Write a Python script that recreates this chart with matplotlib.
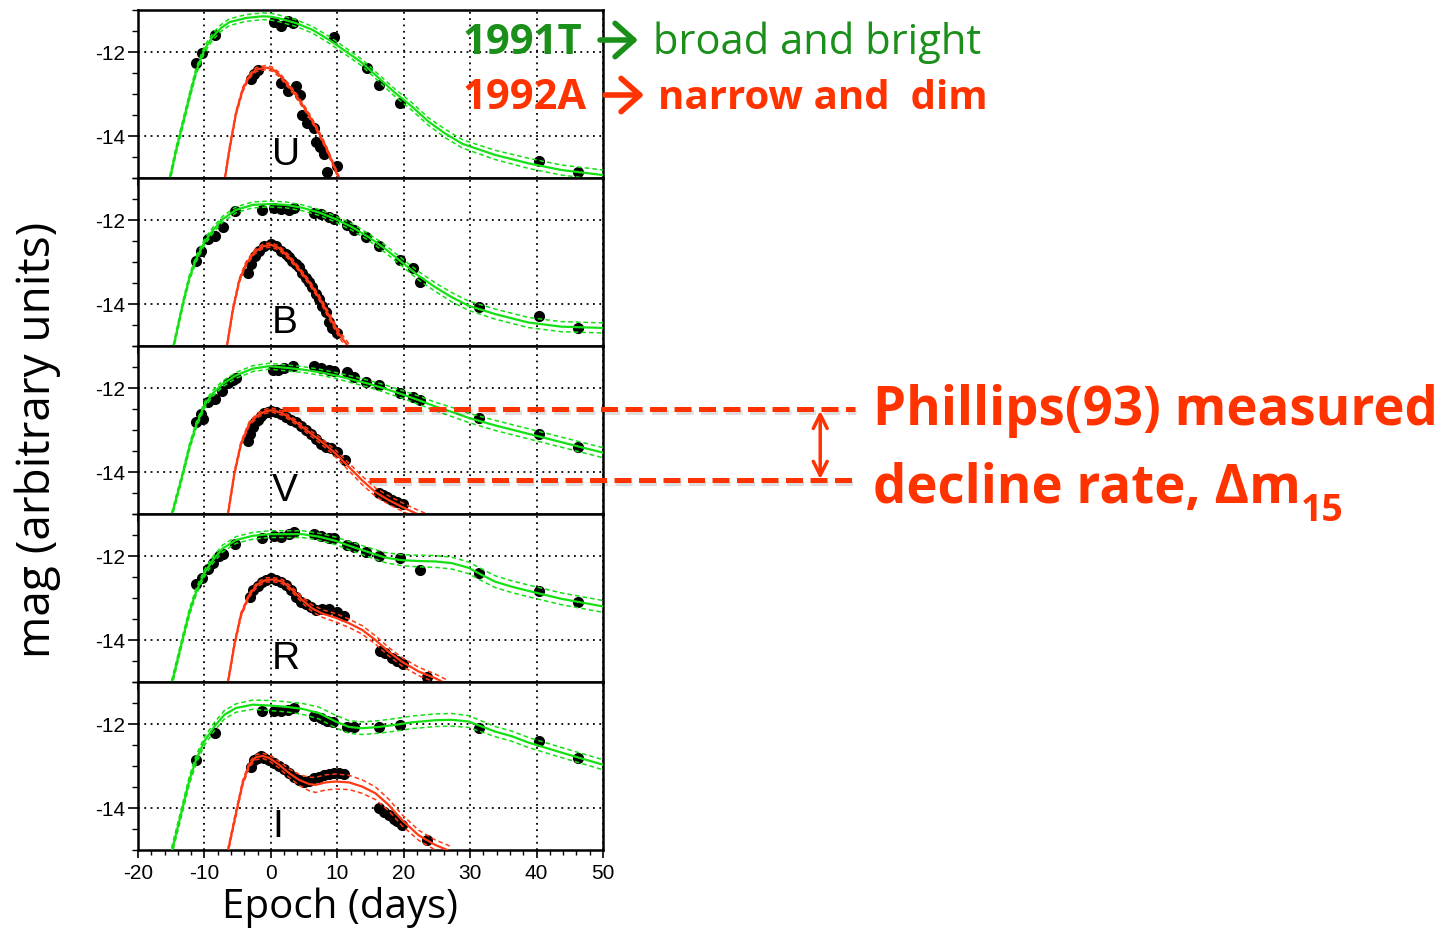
import matplotlib
matplotlib.use('Agg')
import matplotlib.pyplot as plt
import matplotlib.patheffects as pe
from matplotlib.patches import FancyArrowPatch
from matplotlib.ticker import MultipleLocator, FixedLocator

plt.rcParams['font.family'] = ['Liberation Sans', 'DejaVu Sans']
plt.rcParams['axes.unicode_minus'] = False

# ---------------------------------------------------------------------------
# light-curve fits (epoch in days, magnitude) and photometry, per band
# T = SN 1991T (broad, bright), A = SN 1992A (narrow, dim)
# ---------------------------------------------------------------------------
U_T_t = [-15.25, -14.25, -13.25, -12.25, -11.25, -10.0, -8.75, -7.5, -6.25, -3.75, -1.25, 0.0, 1.25, 3.75,
         6.25, 8.75, 11.25, 13.75, 16.25, 18.75, 21.25, 23.75, 26.25, 28.75, 30.0, 33.75, 38.75, 43.75, 50.0]
U_T_m = [-15.05, -14.33, -13.70, -13.06, -12.46, -11.94, -11.63, -11.43, -11.29, -11.19, -11.15, -11.16, -11.20,
         -11.31, -11.47, -11.71, -11.98, -12.26, -12.62, -12.98, -13.30, -13.66, -13.94, -14.18, -14.25, -14.45,
         -14.65, -14.81, -14.93]
U_T_s = [0.08, 0.08, 0.08, 0.08, 0.08, 0.08, 0.08, 0.08, 0.08, 0.08, 0.08, 0.08, 0.08, 0.08, 0.08, 0.08, 0.08,
         0.08, 0.08, 0.09, 0.09, 0.09, 0.10, 0.10, 0.10, 0.11, 0.12, 0.12, 0.12]
U_T_ox = [-11.25, -10.35, -8.4, 0.4, 1.5, 2.65, 3.4, 9.5, 14.4, 16.35, 19.5, 40.4, 46.25]
U_T_oy = [-12.25, -12.02, -11.60, -11.29, -11.37, -11.27, -11.32, -11.65, -12.38, -12.78, -13.22, -14.60, -14.85]

U_A_t = [-6.95, -6.25, -5.25, -4.25, -3.25, -2.25, -0.75, 0.25, 1.25, 2.75, 3.75, 5.25, 6.75, 8.25, 9.75, 10.6]
U_A_m = [-15.05, -14.33, -13.46, -12.90, -12.58, -12.42, -12.37, -12.41, -12.54, -12.82, -13.02, -13.38, -13.78,
         -14.25, -14.81, -15.15]
U_A_s = [0.05, 0.05, 0.05, 0.05, 0.05, 0.05, 0.05, 0.05, 0.05, 0.05, 0.05, 0.05, 0.05, 0.05, 0.05, 0.05]
U_A_ox = [-3.0, -2.5, -2.0, 1.5, 2.6, 3.75, 4.35, 4.75, 5.5, 6.5, 6.75, 7.4, 8.0, 8.5, 10.0]
U_A_oy = [-12.65, -12.52, -12.42, -12.73, -12.92, -12.80, -13.02, -13.50, -13.70, -13.82, -14.14, -14.25, -14.43,
          -14.85, -14.72]

B_T_t = [-14.7, -13.25, -12.25, -11.25, -10.0, -8.75, -7.25, -5.25, -2.75, -0.25, 2.25, 4.75, 7.25, 9.75, 12.25,
         14.75, 17.25, 19.75, 22.25, 24.75, 27.25, 29.75, 33.75, 38.75, 43.75, 50.0]
B_T_m = [-15.05, -14.0, -13.37, -12.93, -12.53, -12.25, -11.98, -11.76, -11.64, -11.62, -11.64, -11.71, -11.82,
         -11.98, -12.17, -12.41, -12.69, -13.01, -13.33, -13.60, -13.84, -14.04, -14.24, -14.44, -14.54, -14.57]
B_T_s = [0.07, 0.07, 0.07, 0.07, 0.07, 0.07, 0.07, 0.07, 0.07, 0.07, 0.07, 0.07, 0.07, 0.07, 0.08, 0.08, 0.09,
         0.09, 0.10, 0.10, 0.11, 0.11, 0.12, 0.12, 0.12, 0.12]
B_T_ox = [-11.25, -10.5, -9.5, -8.35, -7.25, -5.35, -1.35, 0.5, 1.5, 2.75, 3.5, 6.5, 7.5, 8.75, 9.5, 11.5, 12.5,
          14.35, 16.35, 19.5, 21.35, 22.4, 31.4, 40.4, 46.25]
B_T_oy = [-12.97, -12.73, -12.45, -12.37, -12.17, -11.78, -11.76, -11.71, -11.74, -11.76, -11.71, -11.84, -11.86,
          -11.92, -11.98, -12.13, -12.24, -12.41, -12.61, -12.95, -13.14, -13.48, -14.06, -14.29, -14.56]

B_A_t = [-6.65, -5.75, -4.75, -3.75, -2.5, -1.25, 0.0, 1.25, 2.75, 4.25, 5.75, 7.25, 8.75, 10.25, 11.75]
B_A_m = [-15.05, -14.16, -13.44, -13.05, -12.77, -12.63, -12.59, -12.67, -12.89, -13.17, -13.48, -13.84, -14.28,
         -14.71, -15.03]
B_A_s = [0.05, 0.05, 0.05, 0.05, 0.05, 0.05, 0.05, 0.05, 0.05, 0.05, 0.05, 0.06, 0.07, 0.08, 0.08]
B_A_ox = [-3.5, -3.0, -2.35, -1.75, -1.0, 0.0, 0.75, 1.5, 2.25, 2.75, 3.25, 3.75, 4.25, 4.75, 5.25, 5.75, 6.25,
          6.75, 7.25, 7.75, 8.25, 8.75, 9.25, 10.0]
B_A_oy = [-13.25, -13.05, -12.85, -12.73, -12.61, -12.56, -12.61, -12.73, -12.81, -12.87, -12.97, -13.05, -13.13,
          -13.25, -13.37, -13.48, -13.60, -13.75, -13.88, -14.04, -14.20, -14.44, -14.56, -14.70]

V_T_t = [-14.95, -13.25, -12.25, -11.25, -10.0, -8.75, -7.25, -5.25, -2.75, -0.25, 2.25, 4.75, 7.25, 9.75, 12.25,
         14.75, 17.25, 19.75, 22.25, 24.75, 27.25, 29.75, 33.75, 38.75, 43.75, 50.0]
V_T_m = [-15.05, -14.04, -13.40, -12.89, -12.41, -12.13, -11.90, -11.70, -11.54, -11.48, -11.52, -11.56, -11.62,
         -11.70, -11.80, -11.90, -12.02, -12.15, -12.29, -12.44, -12.57, -12.71, -12.89, -13.09, -13.29, -13.54]
V_T_s = [0.07, 0.07, 0.07, 0.07, 0.07, 0.07, 0.07, 0.07, 0.07, 0.07, 0.07, 0.07, 0.07, 0.07, 0.08, 0.08, 0.09,
         0.09, 0.10, 0.10, 0.11, 0.11, 0.12, 0.12, 0.12, 0.12]
V_T_ox = [-11.25, -10.5, -10.25, -9.4, -8.35, -7.35, -6.5, -5.75, -5.25, 0.35, 1.0, 2.0, 3.35, 6.5, 7.5, 8.75,
          9.5, 11.5, 12.5, 14.35, 16.35, 19.5, 21.35, 22.4, 31.4, 40.4, 46.25]
V_T_oy = [-12.81, -12.63, -12.73, -12.33, -12.25, -12.06, -11.88, -11.80, -11.75, -11.56, -11.56, -11.52, -11.48,
          -11.48, -11.52, -11.56, -11.60, -11.63, -11.74, -11.86, -11.94, -12.11, -12.21, -12.29, -12.71, -13.10,
          -13.40]

V_A_t = [-6.5, -5.5, -4.5, -3.25, -2.0, -0.75, 0.25, 1.75, 3.75, 5.75, 7.75, 9.75, 11.75, 13.75, 15.75, 17.75,
         19.75, 21.75, 23.5]
V_A_m = [-15.05, -14.04, -13.33, -12.85, -12.65, -12.55, -12.53, -12.60, -12.81, -13.05, -13.29, -13.56, -13.88,
         -14.20, -14.48, -14.67, -14.83, -14.98, -15.10]
V_A_s = [0.05, 0.05, 0.05, 0.05, 0.05, 0.05, 0.05, 0.05, 0.05, 0.06, 0.07, 0.08, 0.09, 0.10, 0.10, 0.10, 0.10,
         0.10, 0.10]
V_A_ox = [-3.5, -3.15, -2.75, -2.35, -2.0, -1.5, -1.0, -0.5, 0.0, 0.75, 1.5, 2.25, 3.0, 3.75, 4.5, 5.25, 6.0,
          6.75, 7.5, 8.25, 9.0, 10.0, 11.15, 16.25, 16.85, 17.5, 18.25, 19.0, 19.85]
V_A_oy = [-13.25, -13.09, -12.94, -12.81, -12.77, -12.67, -12.60, -12.56, -12.55, -12.57, -12.63, -12.69, -12.77,
          -12.81, -12.91, -12.99, -13.10, -13.21, -13.33, -13.40, -13.44, -13.52, -13.72, -14.49, -14.54, -14.60,
          -14.66, -14.71, -14.77]

R_T_t = [-14.95, -13.25, -12.25, -11.25, -10.0, -8.75, -7.25, -5.25, -2.75, -0.25, 2.25, 4.75, 7.25, 9.75, 12.25,
         14.75, 17.25, 19.75, 22.25, 24.75, 27.25, 29.75, 31.75, 33.75, 36.25, 38.75, 43.75, 50.0]
R_T_m = [-15.05, -13.96, -13.33, -12.85, -12.41, -12.10, -11.82, -11.62, -11.52, -11.48, -11.48, -11.48, -11.54,
         -11.64, -11.78, -11.91, -12.04, -12.10, -12.12, -12.13, -12.17, -12.28, -12.45, -12.61, -12.73, -12.83,
         -13.02, -13.20]
R_T_s = [0.08, 0.08, 0.08, 0.08, 0.08, 0.08, 0.08, 0.08, 0.08, 0.08, 0.08, 0.08, 0.08, 0.09, 0.10, 0.11, 0.12,
         0.13, 0.14, 0.14, 0.14, 0.14, 0.14, 0.14, 0.14, 0.14, 0.14, 0.14]
R_T_ox = [-11.25, -10.4, -9.5, -8.65, -7.75, -7.25, -5.35, -1.35, 0.5, 1.5, 2.75, 3.5, 6.5, 7.5, 8.75, 9.5, 11.5,
          12.5, 14.35, 16.35, 19.5, 22.4, 31.4, 40.4, 46.25]
R_T_oy = [-12.67, -12.52, -12.31, -12.17, -12.0, -11.96, -11.71, -11.56, -11.52, -11.55, -11.48, -11.44, -11.48,
          -11.52, -11.56, -11.58, -11.74, -11.78, -11.91, -11.99, -12.04, -12.34, -12.40, -12.83, -13.10]

R_A_t = [-6.5, -5.5, -4.5, -3.25, -2.0, -0.75, 0.25, 1.75, 3.25, 4.75, 6.25, 7.75, 9.75, 11.75, 13.75, 15.75,
         17.75, 19.75, 22.25, 24.75, 26.5]
R_A_m = [-15.05, -14.12, -13.40, -12.93, -12.67, -12.57, -12.56, -12.61, -12.81, -13.05, -13.25, -13.37, -13.47,
         -13.60, -13.76, -14.00, -14.28, -14.52, -14.75, -14.91, -15.05]
R_A_s = [0.05, 0.05, 0.05, 0.05, 0.05, 0.05, 0.05, 0.05, 0.06, 0.07, 0.08, 0.09, 0.10, 0.10, 0.10, 0.10, 0.10,
         0.10, 0.10, 0.10, 0.10]
R_A_ox = [-3.15, -2.65, -2.0, -1.35, -0.75, 0.0, 0.75, 1.5, 2.25, 3.0, 3.75, 4.5, 5.25, 6.0, 6.75, 7.75, 8.75,
          10.0, 11.0, 16.5, 17.25, 18.25, 19.0, 19.85, 23.5]
R_A_oy = [-12.97, -12.81, -12.71, -12.61, -12.57, -12.53, -12.57, -12.63, -12.69, -12.81, -12.97, -13.09, -13.15,
          -13.21, -13.29, -13.26, -13.26, -13.33, -13.44, -14.26, -14.32, -14.44, -14.50, -14.56, -14.87]

I_T_t = [-14.95, -13.25, -12.25, -11.25, -10.0, -8.5, -7.0, -5.25, -2.75, -0.25, 2.25, 4.75, 7.25, 9.75, 11.75,
         13.75, 16.25, 18.75, 21.25, 24.75, 27.25, 29.75, 31.75, 33.75, 36.25, 38.75, 43.75, 50.0]
I_T_m = [-15.05, -13.97, -13.33, -12.85, -12.41, -12.06, -11.78, -11.62, -11.54, -11.56, -11.59, -11.64, -11.74,
         -11.94, -12.07, -12.10, -12.07, -12.02, -11.96, -11.91, -11.90, -11.94, -12.06, -12.18, -12.29, -12.44,
         -12.68, -12.97]
I_T_s = [0.10, 0.10, 0.10, 0.10, 0.10, 0.10, 0.10, 0.10, 0.11, 0.12, 0.12, 0.13, 0.14, 0.15, 0.15, 0.15, 0.15,
         0.15, 0.15, 0.15, 0.15, 0.14, 0.13, 0.12, 0.12, 0.12, 0.12, 0.12]
I_T_ox = [-11.25, -8.35, -1.35, 0.5, 1.5, 2.65, 3.5, 6.5, 7.5, 8.5, 9.35, 11.5, 12.5, 16.35, 19.5, 31.4, 40.4,
          46.25]
I_T_oy = [-12.85, -12.22, -11.68, -11.68, -11.70, -11.66, -11.63, -11.80, -11.86, -11.94, -11.96, -12.06, -12.08,
          -12.07, -12.02, -12.10, -12.41, -12.80]

I_A_t = [-6.5, -5.25, -4.25, -3.25, -2.25, -1.25, -0.25, 1.25, 2.75, 4.25, 5.75, 6.75, 8.25, 9.75, 11.75, 13.75,
         15.75, 17.75, 19.75, 22.25, 24.75, 27.0]
I_A_m = [-15.05, -14.13, -13.41, -12.97, -12.79, -12.76, -12.81, -12.97, -13.17, -13.33, -13.43, -13.45, -13.39,
         -13.37, -13.39, -13.49, -13.65, -13.93, -14.29, -14.65, -14.88, -15.03]
I_A_s = [0.06, 0.06, 0.06, 0.06, 0.06, 0.06, 0.07, 0.08, 0.10, 0.13, 0.16, 0.18, 0.18, 0.18, 0.17, 0.16, 0.15,
         0.14, 0.13, 0.12, 0.12, 0.12]
I_A_ox = [-3.0, -2.5, -2.0, -1.5, -1.0, -0.25, 0.5, 1.25, 2.0, 2.75, 3.5, 4.25, 5.0, 5.75, 6.5, 7.25, 8.0, 8.75,
          9.5, 10.25, 11.0, 16.35, 17.0, 17.75, 18.5, 19.0, 19.75, 23.5]
I_A_oy = [-13.03, -12.85, -12.80, -12.77, -12.80, -12.85, -12.92, -13.0, -13.08, -13.17, -13.25, -13.33, -13.37,
          -13.35, -13.29, -13.25, -13.21, -13.19, -13.17, -13.16, -13.19, -13.99, -14.09, -14.17, -14.25, -14.30,
          -14.41, -14.75]

BANDS = ['U', 'B', 'V', 'R', 'I']
T_FITS = [(U_T_t, U_T_m, U_T_s), (B_T_t, B_T_m, B_T_s), (V_T_t, V_T_m, V_T_s), (R_T_t, R_T_m, R_T_s),
          (I_T_t, I_T_m, I_T_s)]
A_FITS = [(U_A_t, U_A_m, U_A_s), (B_A_t, B_A_m, B_A_s), (V_A_t, V_A_m, V_A_s), (R_A_t, R_A_m, R_A_s),
          (I_A_t, I_A_m, I_A_s)]
OBS = [(U_T_ox, U_T_oy, U_A_ox, U_A_oy), (B_T_ox, B_T_oy, B_A_ox, B_A_oy), (V_T_ox, V_T_oy, V_A_ox, V_A_oy),
       (R_T_ox, R_T_oy, R_A_ox, R_A_oy), (I_T_ox, I_T_oy, I_A_ox, I_A_oy)]

# decline-rate markers on the V panel: peak level and level 15 days later
DM15_PEAK = -12.51
DM15_LATE = -14.20

# ---------------------------------------------------------------------------
GREEN_LINE = '#14e014'
RED_LINE = '#ff3a14'
GREEN_TXT = '#1a8f1a'
RED_TXT = '#ff3300'
LABEL_FONT = ['Open Sans', 'DejaVu Sans']

W, H = 1448, 932
fig = plt.figure(figsize=(W / 100, H / 100), dpi=100)


def fx(px):
    return px / W


def fy(py):
    return 1 - py / H


AX_L, AX_R = 138, 603
PANEL_H = 168
PANEL_TOP = [10, 178, 346, 514, 682]


def draw_fit(ax, t, m, s, color):
    up = [a + b for a, b in zip(m, s)]
    lo = [a - b for a, b in zip(m, s)]
    ax.plot(t, up, color=color, lw=1.1, ls=(0, (3, 2)), zorder=3)
    ax.plot(t, lo, color=color, lw=1.1, ls=(0, (3, 2)), zorder=3)
    ax.plot(t, m, color=color, lw=1.6, zorder=4)


axes = []
for i, band in enumerate(BANDS):
    top = PANEL_TOP[i]
    ax = fig.add_axes([fx(AX_L), fy(top + PANEL_H), (AX_R - AX_L) / W, PANEL_H / H])
    ax.set_xlim(-20, 50)
    ax.set_ylim(-15, -11)
    ax.xaxis.set_major_locator(MultipleLocator(10))
    ax.xaxis.set_minor_locator(MultipleLocator(2))
    ax.yaxis.set_major_locator(FixedLocator([-12, -14]))
    ax.yaxis.set_minor_locator(MultipleLocator(0.5))
    ax.grid(True, which='major', color='k', ls=(0, (1, 2.5)), lw=1.3)
    ax.tick_params(axis='y', which='major', direction='out', length=7, width=1.2, labelsize=15, pad=2)
    ax.tick_params(axis='y', which='minor', direction='out', length=4, width=1.0)
    ax.tick_params(axis='x', which='major', direction='out', length=6, width=1.2, labelsize=15, pad=4,
                   labelbottom=(i == len(BANDS) - 1))
    ax.tick_params(axis='x', which='minor', direction='out', length=3.5, width=1.0)
    for sp in ax.spines.values():
        sp.set_linewidth(1.8)

    tx, ty, ax_, ay_ = OBS[i]
    ax.plot(tx, ty, 'o', color='k', ms=7, zorder=2)
    ax.plot(ax_, ay_, 'o', color='k', ms=7, zorder=2)
    draw_fit(ax, *T_FITS[i], GREEN_LINE)
    draw_fit(ax, *A_FITS[i], RED_LINE)

    ax.text(0.2, -14.68, band, fontsize=28, va='baseline', ha='left', zorder=5)
    axes.append(ax)

# decline-rate annotation, tied to the V panel
axv = axes[2]
shadow = [pe.SimpleLineShadow(offset=(1, -2), shadow_color='k', alpha=0.13), pe.Normal()]
axv.plot([1.75, 87.9], [DM15_PEAK, DM15_PEAK], color=RED_TXT, lw=3.6, ls=(0, (3.4, 1.5)),
         clip_on=False, zorder=6, path_effects=shadow)
axv.plot([14.75, 87.9], [DM15_LATE, DM15_LATE], color=RED_TXT, lw=3.6, ls=(0, (3.4, 1.5)),
         clip_on=False, zorder=6, path_effects=shadow)
axv.annotate('', xy=(82.7, DM15_PEAK - 0.03), xytext=(82.7, DM15_LATE + 0.03),
             arrowprops=dict(arrowstyle='<->,head_length=0.5,head_width=0.25', lw=2.5, color=RED_TXT,
                             shrinkA=0, shrinkB=0, mutation_scale=20),
             annotation_clip=False)

fig.text(fx(873), fy(425), 'Phillips(93) measured', color=RED_TXT, fontsize=38, fontweight='bold',
         family=LABEL_FONT, va='baseline', ha='left')
dm = fig.text(fx(873), fy(503), 'decline rate, \u0394m', color=RED_TXT, fontsize=38, fontweight='bold',
              family=LABEL_FONT, va='baseline', ha='left')
fig.canvas.draw()
bb = dm.get_window_extent(fig.canvas.get_renderer())
fig.text(bb.x1 / W, fy(521), '15', color=RED_TXT, fontsize=27, fontweight='bold',
         family=LABEL_FONT, va='baseline', ha='left')

# captions at the top
fig.text(fx(463), fy(54), '1991T', color=GREEN_TXT, fontsize=30, fontweight='bold', family=LABEL_FONT,
         va='baseline')
fig.text(fx(653), fy(54), 'broad and bright', color=GREEN_TXT, fontsize=30, family=LABEL_FONT, va='baseline')
fig.text(fx(463), fy(109), '1992A', color=RED_TXT, fontsize=30, fontweight='bold', family=LABEL_FONT,
         va='baseline')
fig.text(fx(658), fy(109), 'narrow and  dim', color=RED_TXT, fontsize=29, fontweight='bold', family=LABEL_FONT,
         va='baseline')
for (x0, x1, y, c) in [(600, 638, 40, GREEN_TXT), (605, 644, 95, RED_TXT)]:
    fig.add_artist(FancyArrowPatch((fx(x0), fy(y)), (fx(x1), fy(y)), transform=fig.transFigure,
                                   arrowstyle='->,head_length=0.45,head_width=0.4', mutation_scale=30,
                                   lw=4, color=c, shrinkA=0, shrinkB=0))

fig.text(fx(38), fy(440), 'mag (arbitrary units)', rotation=90, fontsize=33, family=LABEL_FONT,
         ha='center', va='center')
fig.text(fx(340), fy(908), 'Epoch (days)', fontsize=29, family=LABEL_FONT, ha='center', va='center')

fig.savefig('out.png', dpi=100, facecolor='white')
